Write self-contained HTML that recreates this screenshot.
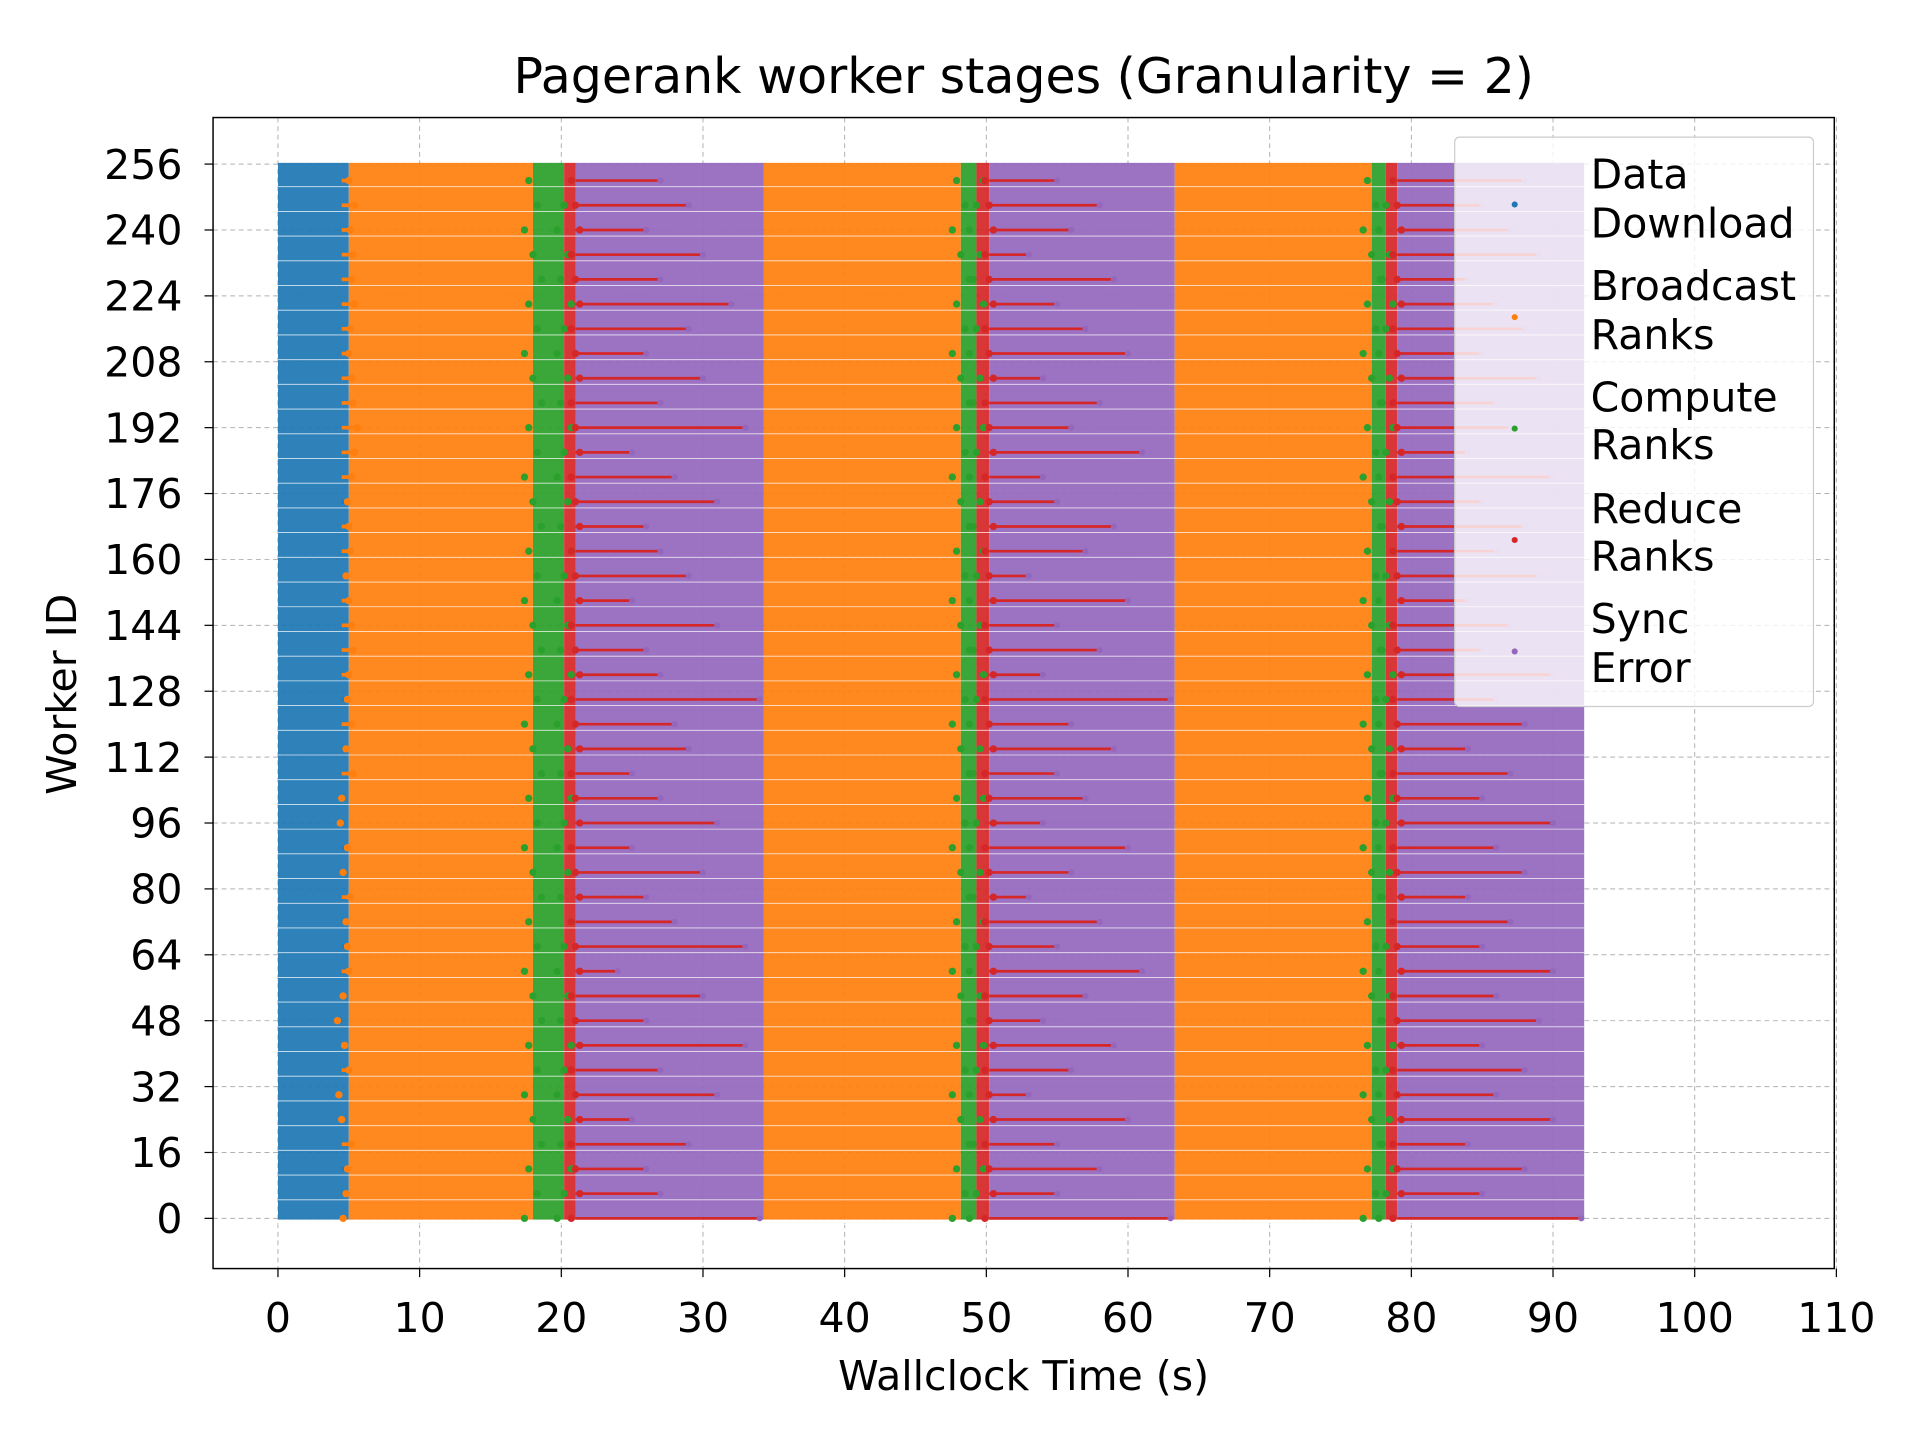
<!DOCTYPE html>
<html><head><meta charset="utf-8"><style>
html,body{margin:0;padding:0;background:#fff}
svg{display:block}
text{font-family:"DejaVu Sans","Liberation Sans",sans-serif;fill:#000}
</style></head><body>
<svg id="chart" width="1920" height="1440" viewBox="0 0 1568 1168" xmlns="http://www.w3.org/2000/svg">
<rect width="1568" height="1168" fill="#fff"/>
<text x="836" y="72" font-size="40" text-anchor="middle">Pagerank worker stages (Granularity = 2)</text>
<g id="grid"></g>
<g id="marks"></g>
<rect x="174" y="92" width="1324" height="940" fill="none" stroke="#000" stroke-width="1.2"/>
<g id="xticks"></g>
<g id="yticks"></g>
<text x="836" y="1131" font-size="33.5" text-anchor="middle">Wallclock Time (s)</text>
<text x="0" y="0" font-size="33.5" text-anchor="middle" transform="translate(62 563) rotate(-90)">Worker ID</text>
<g font-size="33.5">
<rect x="1188" y="108" width="293" height="465" rx="4" fill="#fff" fill-opacity="0.8" stroke="#ccc"/>
<circle cx="1237" cy="163" r="2.5" fill="#1f77b4"/><text x="1299" y="150">Data</text><text x="1299" y="190">Download</text>
<circle cx="1237" cy="255" r="2.5" fill="#ff7f0e"/><text x="1299" y="241">Broadcast</text><text x="1299" y="281">Ranks</text>
<circle cx="1237" cy="346" r="2.5" fill="#2ca02c"/><text x="1299" y="332">Compute</text><text x="1299" y="371">Ranks</text>
<circle cx="1237" cy="437" r="2.5" fill="#d62728"/><text x="1299" y="423">Reduce</text><text x="1299" y="462">Ranks</text>
<circle cx="1237" cy="528" r="2.5" fill="#9467bd"/><text x="1299" y="513">Sync</text><text x="1299" y="553">Error</text>
</g>
</svg>
<script>
const xTicks=[0,10,20,30,40,50,60,70,80,90,100,110];
const yTicks=[0,16,32,48,64,80,96,112,128,144,160,176,192,208,224,240,256];
const stageNames=["Data Download","Broadcast Ranks","Compute Ranks","Reduce Ranks","Sync Error"];
const stageColors=["#1f77b4","#ff7f0e","#2ca02c","#d62728","#9467bd"];
const iterStart=[0,34.3,63.3];
const downloadEnd=[5.0,0,0];
const broadcastEnd=[18.0,48.2,77.2];
const computeEnd=[20.2,49.3,78.2];
const reduceEnd=[21.0,50.2,79.0];
const syncEnd=[34.3,63.3,92.2];
const rowIds=[0,6,12,18,24,30,36,42,48,54,60,66,72,78,84,90,96,102,108,114,120,126,132,138,144,150,156,162,168,174,180,186,192,198,204,210,216,222,228,234,240,246,252];
const red1=[34,27,26,29,25,31,27,33,26,30,24,33,28,26,30,25,31,27,25,29,28,34,27,26,31,25,29,27,26,31,28,25,33,27,30,26,29,32,27,30,26,29,27];
const red2=[63,55,58,55,60,53,56,59,54,57,61,55,58,53,56,60,54,57,55,59,56,63,54,58,55,60,53,57,59,55,54,61,56,58,54,60,57,55,59,53,56,58,55];
const red3=[92,85,88,84,90,86,88,85,89,86,90,85,87,84,88,86,90,85,87,84,88,86,90,85,87,84,89,86,88,85,90,84,87,86,89,85,88,86,84,89,87,85,88];
const dlJag=[4.6,4.8,4.9,5.2,4.5,4.3,5.0,4.7,4.2,4.6,5.0,4.9,4.8,5.1,4.6,4.9,4.4,4.5,5.3,4.8,5.2,4.9,5.0,5.3,5.2,5.0,4.8,5.1,5.0,4.9,5.2,5.4,5.6,5.3,5.2,5.0,5.1,5.4,5.2,5.3,5.1,5.4,5.0];

const NS="http://www.w3.org/2000/svg";
const X=v=>227+v*(1384-227)/100;
const Y=v=>991-v*(991-130)/256;
function mk(tag,attrs,parent){const e=document.createElementNS(NS,tag);for(const k in attrs)e.setAttribute(k,attrs[k]);parent.appendChild(e);return e;}
const grid=document.getElementById('grid'),marks=document.getElementById('marks'),xt=document.getElementById('xticks'),yt=document.getElementById('yticks');
xTicks.forEach(t=>{
  const l=mk('line',{x1:X(t),x2:X(t),y1:92,y2:1032,stroke:'#b0b0b0','stroke-width':0.8,'stroke-dasharray':'4,3'},grid);
  
  
  mk('line',{x1:X(t),x2:X(t),y1:1032,y2:1039,stroke:'#000'},xt);
  const tx=mk('text',{x:X(t),y:1084,'font-size':33.5,'text-anchor':'middle'},xt);tx.textContent=t;
  
  
});
yTicks.forEach(t=>{
  const l=mk('line',{x1:174,x2:1498,y1:Y(t),y2:Y(t),stroke:'#b0b0b0','stroke-width':0.8,'stroke-dasharray':'4,3'},grid);
  
  
  mk('line',{x1:167,x2:174,y1:Y(t),y2:Y(t),stroke:'#000'},yt);
  const tx=mk('text',{x:149,y:Y(t)+12,'font-size':33.5,'text-anchor':'end'},yt);tx.textContent=t;
  
  
});
const yTop=Y(256)-1,yBot=Y(0)+1;
function band(x0,x1,color,name){
  const r=mk('rect',{x:X(x0),y:yTop,width:Math.max(0,X(x1)-X(x0)),height:yBot-yTop,fill:color,'fill-opacity':0.93},marks);
  
  
}
band(0,downloadEnd[0],stageColors[0],'data-download-band');
for(let i=0;i<3;i++){
  const bs=i===0?downloadEnd[0]:iterStart[i];
  band(bs,broadcastEnd[i],stageColors[1],'broadcast-band-'+(i+1));
  band(broadcastEnd[i],computeEnd[i],stageColors[2],'compute-band-'+(i+1));
  band(computeEnd[i],reduceEnd[i],stageColors[3],'reduce-band-'+(i+1));
  band(reduceEnd[i],syncEnd[i],stageColors[4],'sync-band-'+(i+1));
}
const reds=[red1,red2,red3];
rowIds.forEach((w,k)=>{
  const y=Y(w);
  const o=mk('line',{x1:X(downloadEnd[0]-0.5),x2:X(dlJag[k]),y1:y,y2:y,stroke:dlJag[k]<5?'#1f77b4':'#ff7f0e','stroke-width':3},marks);
  
  
  const d=mk('circle',{cx:X(dlJag[k]),cy:y,r:3,fill:'#ff7f0e'},marks);
  
  
  for(let i=0;i<3;i++){
    const ce=computeEnd[i]+((k*7)%5-2)*0.25, ge=broadcastEnd[i]+((k*3)%5-2)*0.3;
    const g=mk('circle',{cx:X(ge),cy:y,r:3,fill:'#2ca02c'},marks);
    
    
    const g2=mk('circle',{cx:X(ce),cy:y,r:3,fill:'#2ca02c'},marks);
    
    
    const rl=mk('line',{x1:X(reduceEnd[i]),x2:X(reds[i][k]),y1:y,y2:y,stroke:'#d62728','stroke-width':2.2},marks);
    
    
    const rd=mk('circle',{cx:X(reduceEnd[i]+((k*5)%3-1)*0.3),cy:y,r:3,fill:'#d62728'},marks);
    
    
    const pe=mk('circle',{cx:X(reds[i][k]),cy:y,r:2.5,fill:'#9467bd'},marks);
    
    
  }
  const wl=mk('line',{x1:X(0),x2:X(syncEnd[2]),y1:y+5,y2:y+5,stroke:'#fff','stroke-width':0.7,'stroke-opacity':0.8},marks);
  
  
});
</script>
</body></html>
